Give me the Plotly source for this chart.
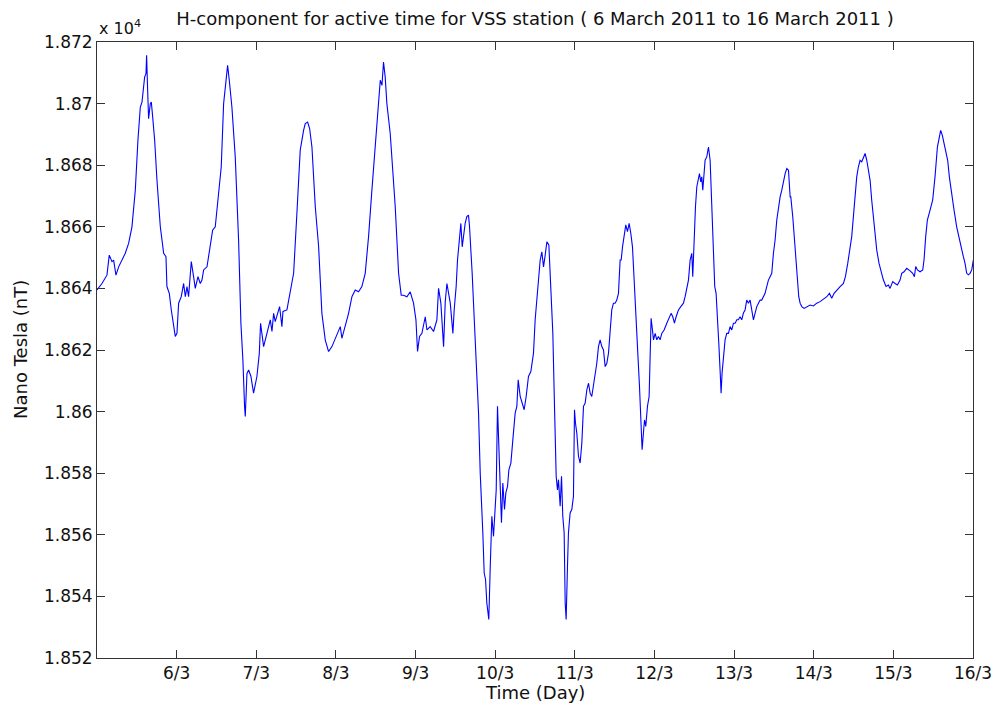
import plotly.graph_objects as go

# Time in days (March 2011) and H-component in nT
days = [
    5.000, 5.062, 5.125, 5.154, 5.188, 5.209, 5.238, 5.272, 5.355, 5.397,
    5.439, 5.481, 5.514, 5.544, 5.565, 5.598, 5.615, 5.623, 5.636, 5.648,
    5.669, 5.682, 5.699, 5.724, 5.753, 5.795, 5.837, 5.866, 5.878, 5.908,
    5.933, 5.962, 5.983, 6.004, 6.025, 6.058, 6.088, 6.109, 6.130, 6.150,
    6.184, 6.213, 6.234, 6.268, 6.297, 6.318, 6.339, 6.381, 6.422, 6.452,
    6.485, 6.527, 6.560, 6.590, 6.619, 6.640, 6.661, 6.694, 6.736, 6.778,
    6.807, 6.832, 6.853, 6.862, 6.883, 6.904, 6.933, 6.966, 7.008, 7.038,
    7.054, 7.092, 7.134, 7.176,
    7.197, 7.218, 7.238, 7.259, 7.293, 7.322, 7.335, 7.385, 7.427, 7.469,
    7.510, 7.552, 7.594, 7.615, 7.645, 7.670, 7.699, 7.741, 7.783, 7.824,
    7.866, 7.908, 7.950, 7.992, 8.034, 8.055, 8.075, 8.117, 8.159, 8.201,
    8.243, 8.284, 8.326, 8.368, 8.410, 8.452, 8.506, 8.536, 8.557, 8.578,
    8.598, 8.619, 8.640, 8.682, 8.745, 8.787, 8.820, 8.850, 8.892, 8.933,
    8.975, 9.005, 9.025, 9.050, 9.080, 9.122, 9.143, 9.184, 9.226, 9.268,
    9.289, 9.318, 9.352, 9.373, 9.394, 9.436,
    9.469, 9.485, 9.510, 9.527, 9.552, 9.569, 9.586, 9.603, 9.623, 9.644,
    9.665, 9.678, 9.695, 9.711, 9.728, 9.749, 9.770, 9.791, 9.812, 9.833,
    9.845, 9.862, 9.879, 9.895, 9.920, 9.937, 9.950, 9.958, 9.979, 10.000,
    10.013, 10.029, 10.046, 10.063, 10.079, 10.096, 10.117, 10.134, 10.155, 10.172,
    10.197, 10.222, 10.251, 10.272, 10.289, 10.314, 10.339, 10.364, 10.389, 10.418,
    10.448, 10.481, 10.502, 10.531, 10.565, 10.586, 10.607, 10.628, 10.649, 10.674,
    10.690, 10.711, 10.724, 10.741, 10.753, 10.766, 10.782, 10.795, 10.816, 10.833,
    10.849, 10.866, 10.879, 10.891, 10.908, 10.920, 10.941, 10.962, 10.983, 10.996,
    11.008, 11.025, 11.046, 11.067, 11.088, 11.109, 11.130, 11.151, 11.172, 11.192,
    11.213, 11.234, 11.255, 11.276, 11.297, 11.318, 11.339, 11.360, 11.381, 11.402,
    11.423, 11.443, 11.464, 11.485, 11.506, 11.527, 11.548, 11.569,
    11.582, 11.599, 11.619, 11.640, 11.661, 11.682, 11.703, 11.724, 11.745, 11.770,
    11.791, 11.812, 11.833, 11.845, 11.858, 11.875, 11.891, 11.912, 11.933, 11.946,
    11.958, 11.975, 11.988, 12.009, 12.029, 12.050, 12.071, 12.092, 12.121, 12.155,
    12.188, 12.209, 12.230, 12.251, 12.272, 12.301, 12.331, 12.364, 12.385, 12.406,
    12.427, 12.448, 12.469, 12.481, 12.498, 12.515, 12.532, 12.552, 12.565, 12.582,
    12.594, 12.607, 12.624, 12.636, 12.657, 12.678, 12.699, 12.720, 12.741, 12.757,
    12.774, 12.791, 12.808, 12.824, 12.837, 12.849, 12.866, 12.887, 12.908, 12.929,
    12.950, 12.971, 12.992, 13.013, 13.034, 13.054, 13.075, 13.096, 13.117, 13.138,
    13.159, 13.180, 13.201, 13.222, 13.243, 13.264, 13.285, 13.306, 13.327, 13.347,
    13.368, 13.389, 13.410, 13.431, 13.452, 13.473, 13.494, 13.515, 13.536, 13.557,
    13.578, 13.599, 13.620, 13.641, 13.662, 13.683, 13.704,
    13.712, 13.737, 13.754, 13.779, 13.795, 13.812, 13.829, 13.850, 13.879, 13.913,
    13.954, 13.996, 14.038, 14.080, 14.122, 14.164, 14.197, 14.226, 14.256, 14.289,
    14.331, 14.373, 14.398, 14.427, 14.456, 14.477, 14.498, 14.519, 14.540, 14.561,
    14.582, 14.603, 14.624, 14.645, 14.666, 14.687, 14.708, 14.728, 14.749, 14.770,
    14.791, 14.820, 14.854, 14.875, 14.908, 14.938, 14.958, 14.992, 15.021, 15.051,
    15.084, 15.105, 15.134, 15.168, 15.210, 15.243, 15.264, 15.281, 15.302, 15.335,
    15.369, 15.385, 15.406, 15.427, 15.461, 15.494, 15.523, 15.553, 15.578, 15.594,
    15.615, 15.636, 15.661, 15.682, 15.703, 15.728, 15.762, 15.795, 15.829, 15.858,
    15.879, 15.900, 15.921, 15.942, 15.963, 15.984, 16.004,
]

h_nt = [
    18639.5, 18641.6, 18644.3, 18650.8, 18648.7, 18649.2, 18644.3, 18647.0, 18651.4, 18654.6,
    18660.0, 18671.9, 18688.1, 18698.9, 18700.5, 18708.6, 18709.7, 18715.7, 18704.3, 18695.1,
    18700.0, 18700.5, 18695.7, 18688.1, 18675.1, 18660.0, 18651.4, 18650.3, 18640.6, 18638.4,
    18633.0, 18628.7, 18624.4, 18625.4, 18635.2, 18637.3, 18641.6, 18637.3, 18640.6, 18637.3,
    18648.7, 18643.8, 18640.0, 18643.8, 18641.6, 18642.7, 18646.0, 18647.0, 18653.5, 18658.9,
    18660.0, 18670.8, 18679.4, 18700.0, 18706.5, 18712.4, 18707.6, 18698.9, 18682.7, 18655.7,
    18628.7, 18616.8, 18601.7, 18598.4, 18612.4, 18613.5, 18611.4, 18606.0, 18611.4, 18618.9,
    18628.7, 18621.1, 18625.4, 18629.8,
    18626.0, 18631.9, 18629.2, 18631.4, 18634.1, 18627.6, 18632.5, 18633.0, 18638.4, 18644.9,
    18664.3, 18684.9, 18691.3, 18693.5, 18694.0, 18691.9, 18685.9, 18666.5, 18653.5, 18631.9,
    18623.3, 18619.5, 18621.1, 18623.8, 18626.5, 18627.6, 18623.8, 18627.6, 18631.9, 18637.3,
    18639.5, 18638.9, 18640.6, 18644.9, 18656.8, 18671.9, 18691.3, 18701.1, 18707.6, 18705.9,
    18713.5, 18708.6, 18700.0, 18690.3, 18666.5, 18644.9, 18637.8, 18637.8, 18637.3, 18638.9,
    18635.2, 18629.8, 18619.5, 18624.4, 18625.4, 18630.8, 18626.5, 18627.6, 18626.0, 18629.8,
    18640.0, 18635.2, 18621.1, 18635.7, 18641.6, 18635.2,
    18625.4, 18633.0, 18640.6, 18649.2, 18656.2, 18661.1, 18653.5, 18656.8, 18661.1, 18663.3,
    18663.8, 18660.0, 18653.5, 18644.9, 18635.2, 18624.4, 18611.4, 18599.5, 18580.1, 18570.3,
    18560.6, 18547.6, 18545.5, 18537.9, 18532.5, 18548.7, 18558.5, 18566.0, 18559.5, 18567.1,
    18574.6, 18601.7, 18586.5, 18577.9, 18563.9, 18576.8, 18568.2, 18573.6, 18575.7, 18581.1,
    18583.3, 18590.9, 18599.5, 18601.7, 18610.3, 18604.9, 18602.8, 18600.6, 18604.9, 18611.4,
    18613.0, 18619.0, 18629.8, 18639.5, 18649.2, 18651.9, 18647.0, 18650.8, 18655.1, 18654.1,
    18643.8, 18631.9, 18625.4, 18606.0, 18586.5, 18579.0, 18574.6, 18577.9, 18569.3, 18579.0,
    18566.0, 18560.6, 18537.9, 18532.5, 18549.8, 18560.6, 18567.1, 18568.2, 18572.5, 18600.6,
    18596.3, 18593.0, 18585.5, 18583.3, 18589.8, 18601.7, 18602.8, 18607.1, 18609.2, 18606.0,
    18604.9, 18608.1, 18611.4, 18615.7, 18621.1, 18623.3, 18621.1, 18620.0, 18614.6, 18615.7,
    18619.0, 18625.4, 18633.0, 18635.2, 18635.2, 18636.2, 18638.4, 18649.2,
    18649.2, 18653.5, 18657.9, 18660.6, 18658.4, 18661.1, 18657.9, 18653.5, 18642.7, 18631.9,
    18618.9, 18608.2, 18594.1, 18587.6, 18591.9, 18597.3, 18595.2, 18601.7, 18604.9, 18618.9,
    18630.3, 18626.5, 18623.3, 18625.4, 18623.3, 18624.4, 18623.3, 18625.4, 18626.5, 18628.7,
    18630.8, 18631.9, 18630.8, 18628.7, 18630.8, 18633.0, 18634.1, 18635.2, 18637.3, 18640.6,
    18642.7, 18649.2, 18651.4, 18643.8, 18657.9, 18666.5, 18673.0, 18675.1, 18677.3, 18674.6,
    18676.2, 18671.9, 18679.5, 18681.6, 18682.7, 18685.9, 18681.6, 18664.3, 18647.1, 18640.6,
    18638.4, 18631.9, 18622.2, 18613.5, 18606.0, 18612.5, 18618.9, 18623.3, 18625.4, 18625.4,
    18627.6, 18626.5, 18628.7, 18628.7, 18629.8, 18629.8, 18630.8, 18629.8, 18632.0, 18633.0,
    18636.2, 18635.2, 18636.2, 18633.0, 18629.8, 18632.0, 18634.1, 18635.2, 18636.2, 18636.2,
    18637.3, 18638.4, 18640.6, 18642.7, 18643.8, 18644.9, 18651.4, 18655.7, 18662.2, 18666.5,
    18669.7, 18671.9, 18675.1, 18677.3, 18678.9, 18678.4, 18669.7,
    18669.7, 18663.2, 18657.9, 18649.2, 18642.7, 18637.3, 18635.2, 18634.1, 18633.5, 18634.1,
    18634.6, 18634.3, 18635.2, 18635.7, 18636.5, 18637.3, 18638.4, 18636.8, 18638.4, 18639.5,
    18640.6, 18641.6, 18643.8, 18648.1, 18652.5, 18656.8, 18663.3, 18670.8, 18676.2, 18679.5,
    18681.6, 18681.1, 18682.7, 18683.8, 18681.6, 18678.4, 18675.1, 18668.7, 18663.3, 18658.9,
    18652.5, 18648.1, 18644.9, 18642.7, 18640.6, 18641.1, 18640.0, 18642.2, 18641.6, 18641.1,
    18642.7, 18644.9, 18645.4, 18646.5, 18645.7, 18644.9, 18643.8, 18647.1, 18646.0, 18645.4,
    18646.0, 18649.2, 18656.8, 18662.2, 18665.4, 18668.7, 18676.2, 18685.9, 18689.2, 18691.3,
    18689.7, 18687.0, 18684.9, 18681.6, 18676.2, 18670.8, 18665.4, 18660.0, 18655.7, 18652.5,
    18650.3, 18648.1, 18644.9, 18644.4, 18644.9, 18646.0, 18649.2,
]

x_tick_vals = [6, 7, 8, 9, 10, 11, 12, 13, 14, 15, 16]
x_tick_text = ["6/3", "7/3", "8/3", "9/3", "10/3", "11/3", "12/3", "13/3", "14/3", "15/3", "16/3"]
y_tick_vals = [18520, 18540, 18560, 18580, 18600, 18620, 18640, 18660, 18680, 18700, 18720]
y_tick_text = ["1.852", "1.854", "1.856", "1.858", "1.86", "1.862", "1.864", "1.866", "1.868", "1.87", "1.872"]

FONT = "DejaVu Sans, Liberation Sans, Arial, sans-serif"
TXT = "#111111"

fig = go.Figure()
fig.add_trace(go.Scatter(
    x=days, y=h_nt, mode="lines",
    line=dict(color="#0000FF", width=1.1),
    showlegend=False, hoverinfo="skip",
))

axis_common = dict(
    showline=True, linecolor="#333333", linewidth=1, mirror="ticks",
    ticks="inside", ticklen=8, tickcolor="#333333", tickwidth=1,
    showgrid=False, zeroline=False, automargin=False,
    tickfont=dict(family=FONT, size=17, color=TXT),
)

fig.update_layout(
    width=993, height=705,
    margin=dict(l=97, r=20, t=42, b=47),
    paper_bgcolor="white", plot_bgcolor="white",
    font=dict(family=FONT, size=17, color=TXT),
    hovermode=False,
    title=dict(
        text="H-component for active time for VSS station ( 6 March 2011 to 16 March 2011 )",
        x=0.5, xref="paper", xanchor="center",
        y=1 - 19 / 705, yref="container", yanchor="middle",
        font=dict(family=FONT, size=18, color=TXT),
    ),
    xaxis=dict(range=[5, 16], tickvals=x_tick_vals, ticktext=x_tick_text, **axis_common),
    yaxis=dict(range=[18520, 18720], tickvals=y_tick_vals, ticktext=y_tick_text, **axis_common),
    annotations=[
        dict(text="x 10<sup>4</sup>", xref="paper", yref="paper",
             x=0, y=1, xanchor="left", yanchor="bottom", yshift=2,
             showarrow=False, font=dict(family=FONT, size=16, color=TXT)),
        dict(text="Time (Day)", xref="paper", yref="paper",
             x=0.5, y=0, xanchor="center", yanchor="middle", yshift=-34,
             showarrow=False, font=dict(family=FONT, size=18, color=TXT)),
        dict(text="Nano Tesla (nT)", xref="paper", yref="paper",
             x=0, y=0.5, xanchor="center", yanchor="middle", xshift=-77,
             textangle=-90, showarrow=False, font=dict(family=FONT, size=18, color=TXT)),
    ],
)

fig.write_html(
    "out.html",
    config={"displayModeBar": False, "staticPlot": True},
    post_script="document.body.style.margin='0px';document.body.style.overflow='hidden';",
)
